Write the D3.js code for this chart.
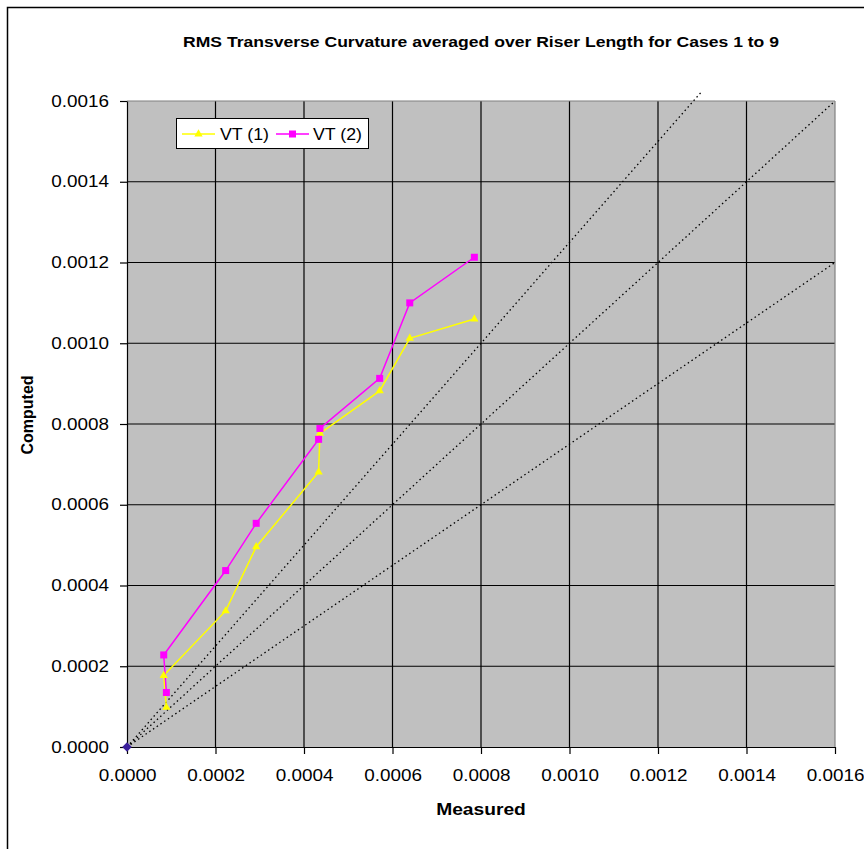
<!DOCTYPE html>
<html>
<head>
<meta charset="utf-8">
<script src="https://cdn.jsdelivr.net/npm/d3@7"></script>
<style>
  html, body { margin: 0; padding: 0; background: #fff; }
  svg { display: block; }
  text { font-family: "Liberation Sans", Arial, sans-serif; }
</style>
</head>
<body>
<svg id="chart" width="864" height="849"></svg>
<script>
// ---- data ----
const titleText = "RMS Transverse Curvature averaged over Riser Length for Cases 1 to 9";
const xTitle = "Measured";
const yTitle = "Computed";
const tickValues = [0, 0.0002, 0.0004, 0.0006, 0.0008, 0.0010, 0.0012, 0.0014, 0.0016];
const tickLabels = ["0.0000", "0.0002", "0.0004", "0.0006", "0.0008", "0.0010", "0.0012", "0.0014", "0.0016"];

const measured = [0.000089, 0.000083, 0.000223, 0.000292, 0.000433, 0.000436, 0.000571, 0.000639, 0.000785];
const vt1 = [0.000098, 0.000177, 0.000337, 0.000496, 0.000681, 0.000777, 0.000882, 0.001012, 0.001060];
const vt2 = [0.000135, 0.000228, 0.000437, 0.000554, 0.000762, 0.000789, 0.000913, 0.001100, 0.001213];
const seriesNames = ["VT (1)", "VT (2)"];
const seriesColors = ["#FFFF00", "#FF00FF"];

const originPoint = [[0, 0]];
const refLine1 = [[0, 0], [0.0013, 0.001625]];
const refLine2 = [[0, 0], [0.0016, 0.0016]];
const refLine3 = [[0, 0], [0.0016, 0.0012]];

// ---- helpers ----
function stretch(sel, factor) {
  sel.each(function () {
    const w = this.getComputedTextLength();
    d3.select(this).attr("textLength", w * factor).attr("lengthAdjust", "spacingAndGlyphs");
  });
}

// ---- layout ----
const svg = d3.select("#chart");
const plot = { left: 127, top: 101, right: 835, bottom: 747 };

svg.append("rect").attr("x", 7.5).attr("y", 7.5).attr("width", 900).attr("height", 900)
  .attr("fill", "#fff").attr("stroke", "#000").attr("stroke-width", 1.5);

const x = d3.scaleLinear().domain([0, 0.0016]).range([plot.left, plot.right]);
const y = d3.scaleLinear().domain([0, 0.0016]).range([plot.bottom, plot.top]);

// plot background
svg.append("rect").attr("x", plot.left).attr("y", plot.top)
  .attr("width", plot.right - plot.left).attr("height", plot.bottom - plot.top)
  .attr("fill", "#C0C0C0");

// gridlines
const grid = svg.append("g").attr("stroke", "#000").attr("stroke-width", 1.2);
tickValues.slice(1, -1).forEach(v => {
  grid.append("line").attr("x1", x(v)).attr("x2", x(v)).attr("y1", plot.top).attr("y2", plot.bottom);
  grid.append("line").attr("x1", plot.left).attr("x2", plot.right).attr("y1", y(v)).attr("y2", y(v));
});
grid.append("line").attr("x1", plot.left).attr("x2", plot.right).attr("y1", y(0.0016)).attr("y2", y(0.0016)).attr("stroke", "#808080");
grid.append("line").attr("x1", x(0.0016)).attr("x2", x(0.0016)).attr("y1", plot.top).attr("y2", plot.bottom).attr("stroke", "#808080");

// axes
const fmt = d => tickLabels[tickValues.indexOf(d)];
const xAxis = svg.append("g").attr("transform", `translate(0,${plot.bottom})`)
  .call(d3.axisBottom(x).tickValues(tickValues).tickFormat(fmt).tickSizeInner(7).tickSizeOuter(0).tickPadding(16));
const yAxis = svg.append("g").attr("transform", `translate(${plot.left},0)`)
  .call(d3.axisLeft(y).tickValues(tickValues).tickFormat(fmt).tickSizeInner(7).tickSizeOuter(0).tickPadding(11));
[xAxis, yAxis].forEach(a => {
  a.selectAll("path.domain").attr("stroke", "#000").attr("stroke-width", 1.2);
  a.selectAll(".tick line").attr("stroke", "#000").attr("stroke-width", 1.2);
  a.selectAll(".tick text").attr("fill", "#000").style("font-size", "16px")
    .style("font-family", '"Liberation Sans", Arial, sans-serif');
  stretch(a.selectAll(".tick text"), 1.18);
});

// reference lines
const line = d3.line().x(d => x(d[0])).y(d => y(d[1]));
[refLine1, refLine2, refLine3].forEach(r => {
  svg.append("path").attr("d", line(r)).attr("fill", "none")
    .attr("stroke", "#000").attr("stroke-width", 1.3).attr("stroke-dasharray", "1.5,3");
});

// series
const seriesData = [vt1, vt2].map(vals => vals.map((v, i) => [measured[i], v]));
seriesData.forEach((pts, si) => {
  svg.append("path").attr("d", line(pts)).attr("fill", "none")
    .attr("stroke", seriesColors[si]).attr("stroke-width", 1.5);
});
// markers
svg.selectAll(".tri").data(seriesData[0]).join("path")
  .attr("transform", d => `translate(${x(d[0])},${y(d[1])})`)
  .attr("d", d3.symbol(d3.symbolTriangle, 30)).attr("fill", seriesColors[0]);
svg.selectAll(".sq").data(seriesData[1]).join("rect")
  .attr("x", d => x(d[0]) - 3.5).attr("y", d => y(d[1]) - 3.5)
  .attr("width", 7).attr("height", 7).attr("fill", seriesColors[1]);

// origin point
svg.selectAll(".orig").data(originPoint).join("path")
  .attr("transform", d => `translate(${x(d[0])},${y(d[1])}) rotate(45)`)
  .attr("d", d3.symbol(d3.symbolSquare, 45)).attr("fill", "#3a1f9a");

// title + axis titles
const t = svg.append("text").attr("x", 481).attr("y", 47).attr("text-anchor", "middle")
  .style("font-size", "15px").style("font-weight", "bold").text(titleText);
stretch(t, 1.17);
const mt = svg.append("text").attr("x", 481).attr("y", 815).attr("text-anchor", "middle")
  .style("font-size", "16px").style("font-weight", "bold").text(xTitle);
stretch(mt, 1.2);
svg.append("text").attr("transform", "translate(33,415) rotate(-90)").attr("text-anchor", "middle")
  .style("font-size", "16px").style("font-weight", "bold").text(yTitle);

// legend
const lg = svg.append("g");
lg.append("rect").attr("x", 176.5).attr("y", 118.5).attr("width", 192).attr("height", 30)
  .attr("fill", "#fff").attr("stroke", "#000").attr("stroke-width", 1);
const legendItems = [
  { x1: 182, x2: 215, tx: 220 },
  { x1: 276, x2: 309, tx: 313 }
];
legendItems.forEach((it, i) => {
  const cy = 134;
  lg.append("line").attr("x1", it.x1).attr("x2", it.x2).attr("y1", cy).attr("y2", cy)
    .attr("stroke", seriesColors[i]).attr("stroke-width", 1.5);
  const mx = (it.x1 + it.x2) / 2;
  if (i === 0) {
    lg.append("path").attr("transform", `translate(${mx},${cy})`)
      .attr("d", d3.symbol(d3.symbolTriangle, 30)).attr("fill", seriesColors[i]);
  } else {
    lg.append("rect").attr("x", mx - 3.5).attr("y", cy - 3.5).attr("width", 7).attr("height", 7)
      .attr("fill", seriesColors[i]);
  }
  const lt = lg.append("text").attr("x", it.tx).attr("y", cy).attr("dy", "0.35em")
    .style("font-size", "16px").text(seriesNames[i]);
  stretch(lt, 1.11);
});
</script>
</body>
</html>
